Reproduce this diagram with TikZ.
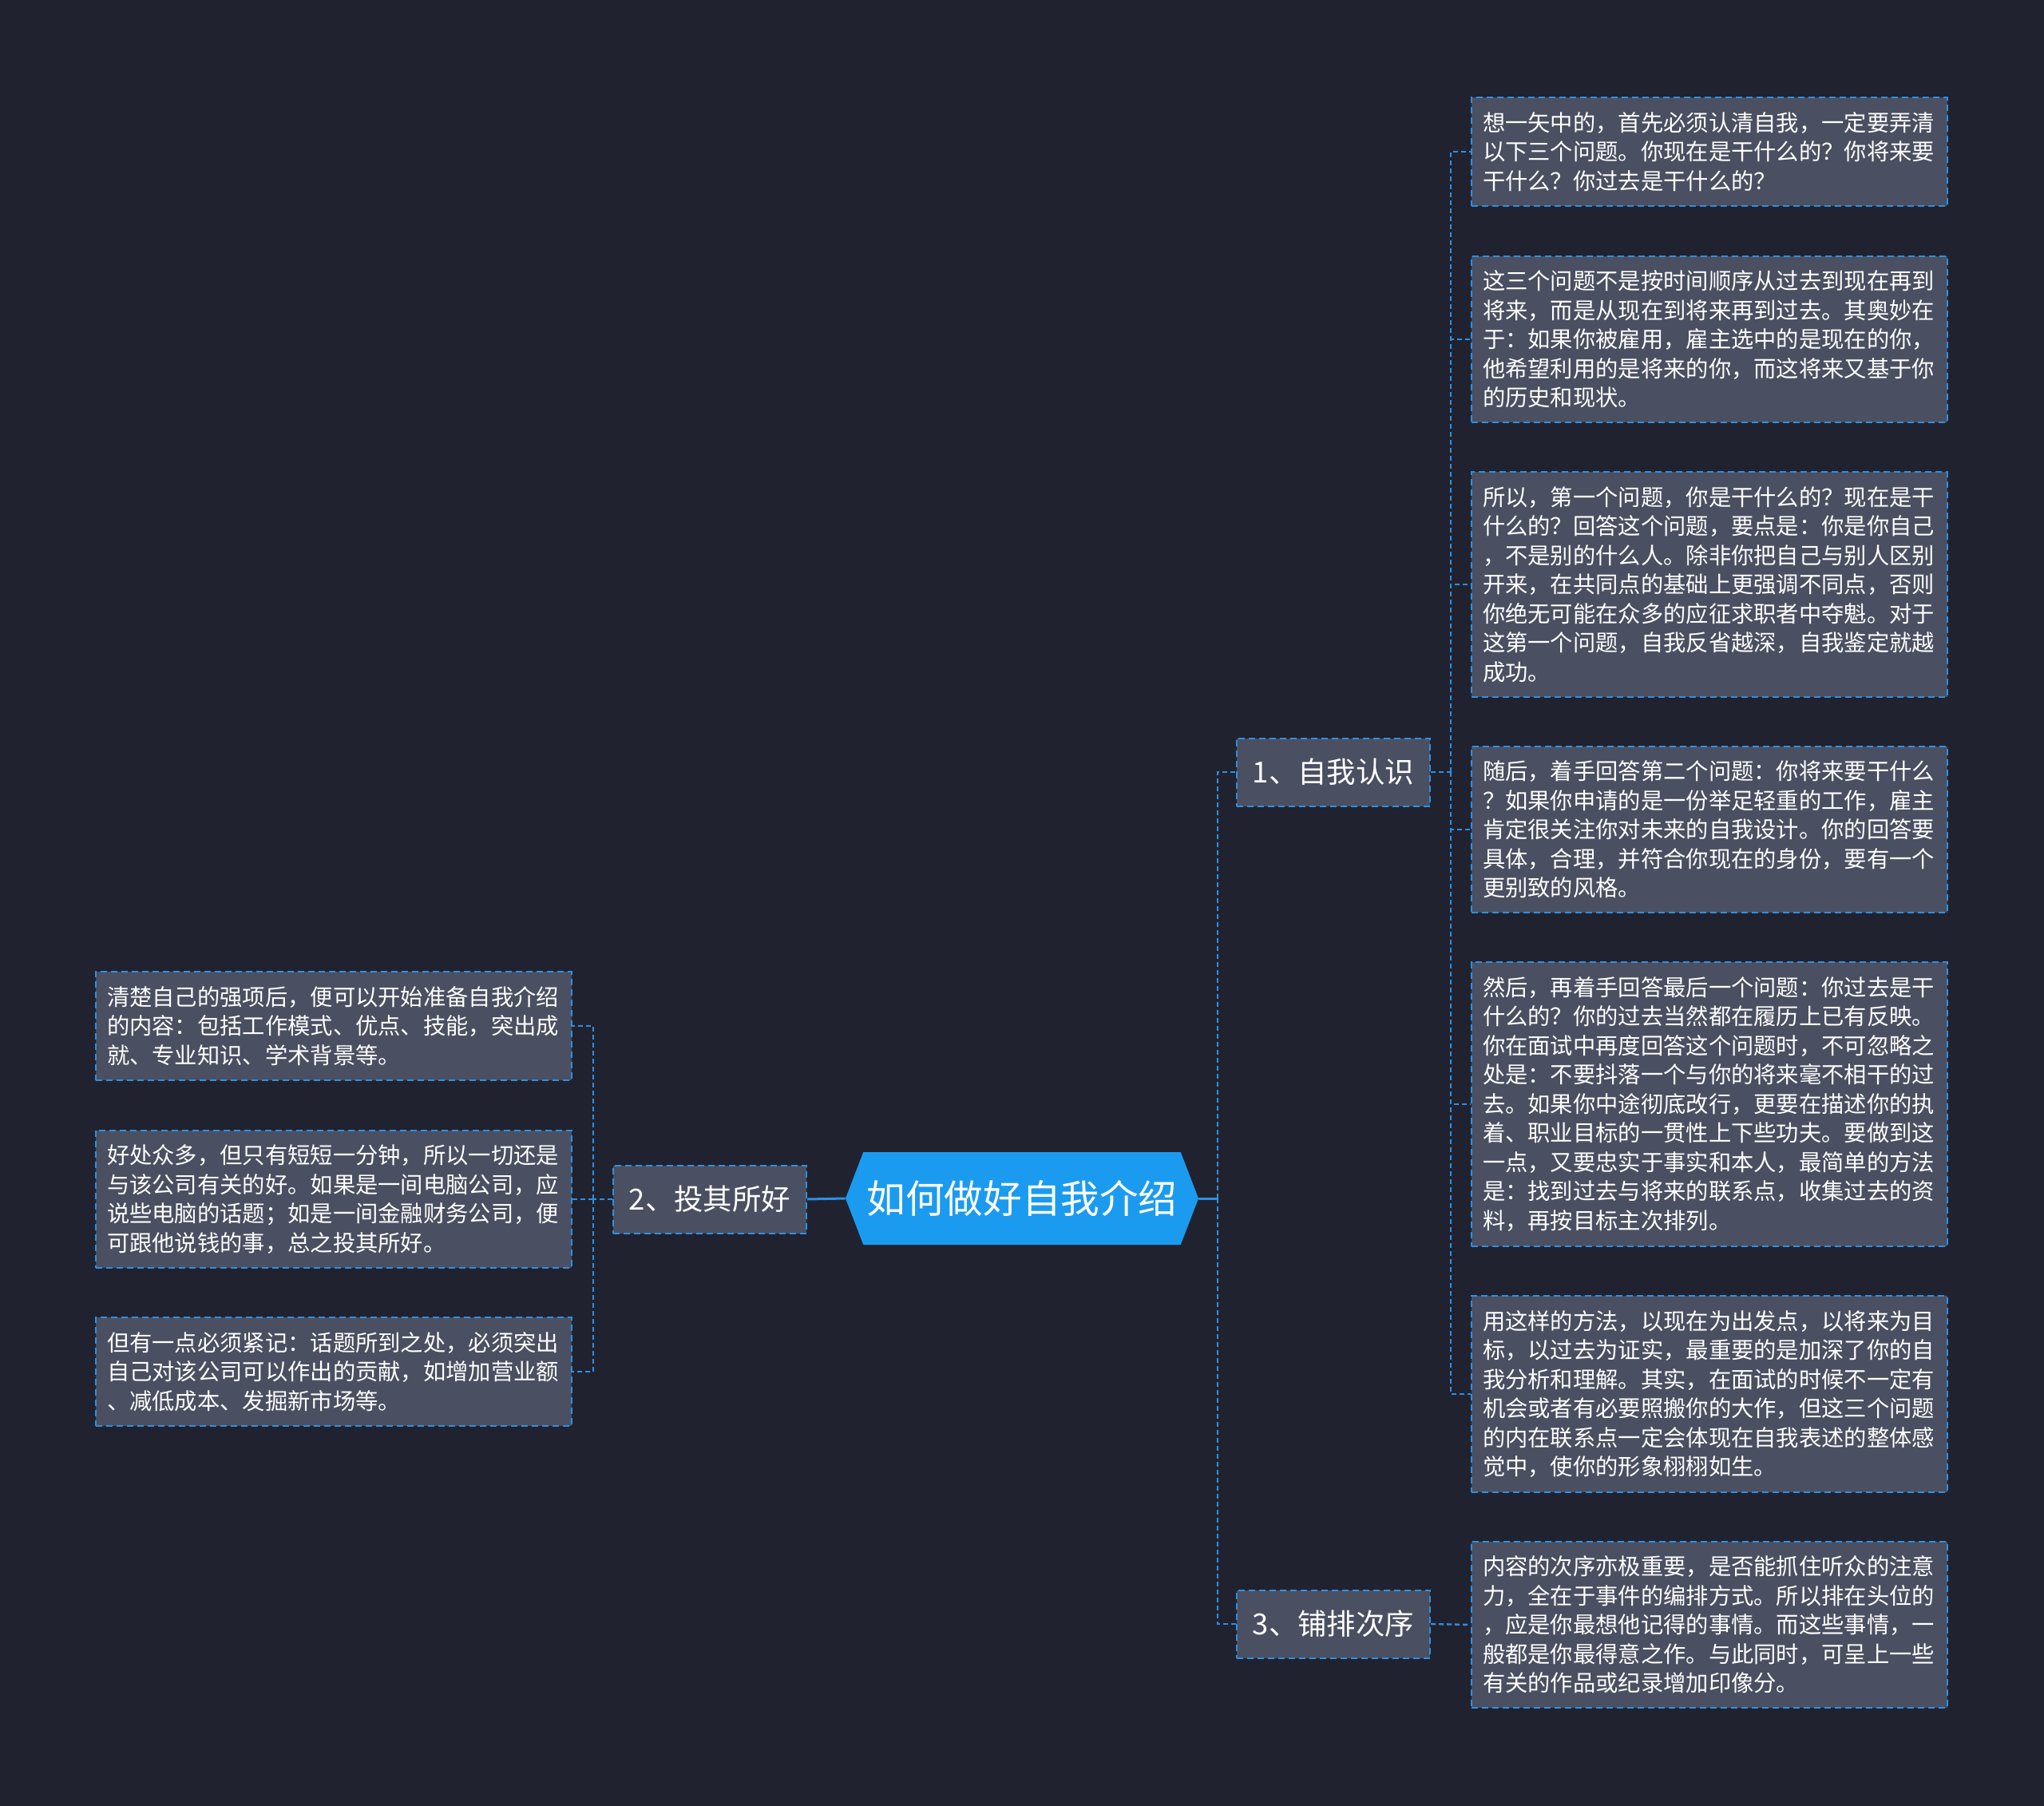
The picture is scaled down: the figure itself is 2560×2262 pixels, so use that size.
\documentclass[tikz,border=0pt]{standalone}
\usepackage{fontspec}
\setmainfont{Noto Sans CJK SC}
\usepackage{tikz}
\usepackage{xcolor}
\definecolor{mapBack}{HTML}{20232F}
\definecolor{mapBox}{HTML}{4A5061}
\definecolor{mapEdge}{HTML}{2E8FE3}
\definecolor{mapRoot}{HTML}{1B9BF0}
\definecolor{mapText}{HTML}{FFFFFF}
\usetikzlibrary{shapes.symbols}

\begin{document}
\begin{tikzpicture}[x=0.5pt, y=-0.5pt,
  leaf/.style={rectangle, draw=mapEdge, fill=mapBox, line width=1pt, dash pattern=on 4pt off 2.5pt, text=mapText, align=left, text width=284pt, inner xsep=7pt, inner ysep=9pt, font=\fontsize{14.15pt}{18.25pt}\selectfont},
  topic/.style={rectangle, draw=mapEdge, fill=mapBox, line width=1pt, dash pattern=on 4pt off 2.5pt, text=mapText, minimum width=121pt, minimum height=42.5pt, inner sep=0pt, font=\fontsize{18.2pt}{20pt}\selectfont},
  trunk/.style={draw=mapEdge, line width=1.5pt},
  twig/.style={draw=mapEdge, line width=1.2pt, dash pattern=on 3pt off 2pt}]
  \fill[mapBack] (0,0) rectangle (2560,2262);
  \useasboundingbox (0,0) rectangle (2560,2262);
  \node[signal, signal to=east and west, signal pointer angle=138, fill=mapRoot, text=mapText, minimum width=221pt, minimum height=58pt, inner sep=0pt, font=\fontsize{24.3pt}{28pt}\selectfont] (root) at (1280,1501) {如何做好自我介绍};
  \node[topic] (know) at (1670,967) {1、自我认识};
  \node[topic] (cater) at (889,1502) {2、投其所好};
  \node[topic] (order) at (1670,2034) {3、铺排次序};
  \node[leaf] (know1) at (2141,190) {想一矢中的，首先必须认清自我，一定要弄清\\以下三个问题。你现在是干什么的？你将来要\\干什么？你过去是干什么的？};
  \node[leaf] (know2) at (2141,425) {这三个问题不是按时间顺序从过去到现在再到\\将来，而是从现在到将来再到过去。其奥妙在\\于：如果你被雇用，雇主选中的是现在的你，\\他希望利用的是将来的你，而这将来又基于你\\的历史和现状。};
  \node[leaf] (know3) at (2141,732) {所以，第一个问题，你是干什么的？现在是干\\什么的？回答这个问题，要点是：你是你自己\\，不是别的什么人。除非你把自己与别人区别\\开来，在共同点的基础上更强调不同点，否则\\你绝无可能在众多的应征求职者中夺魁。对于\\这第一个问题，自我反省越深，自我鉴定就越\\成功。};
  \node[leaf] (know4) at (2141,1039) {随后，着手回答第二个问题：你将来要干什么\\？如果你申请的是一份举足轻重的工作，雇主\\肯定很关注你对未来的自我设计。你的回答要\\具体，合理，并符合你现在的身份，要有一个\\更别致的风格。};
  \node[leaf] (know5) at (2141,1383) {然后，再着手回答最后一个问题：你过去是干\\什么的？你的过去当然都在履历上已有反映。\\你在面试中再度回答这个问题时，不可忽略之\\处是：不要抖落一个与你的将来毫不相干的过\\去。如果你中途彻底改行，更要在描述你的执\\着、职业目标的一贯性上下些功夫。要做到这\\一点，又要忠实于事实和本人，最简单的方法\\是：找到过去与将来的联系点，收集过去的资\\料，再按目标主次排列。};
  \node[leaf] (know6) at (2141,1746) {用这样的方法，以现在为出发点，以将来为目\\标，以过去为证实，最重要的是加深了你的自\\我分析和理解。其实，在面试的时候不一定有\\机会或者有必要照搬你的大作，但这三个问题\\的内在联系点一定会体现在自我表述的整体感\\觉中，使你的形象栩栩如生。};
  \node[leaf] (order1) at (2141,2035) {内容的次序亦极重要，是否能抓住听众的注意\\力，全在于事件的编排方式。所以排在头位的\\，应是你最想他记得的事情。而这些事情，一\\般都是你最得意之作。与此同时，可呈上一些\\有关的作品或纪录增加印像分。};
  \node[leaf] (cater1) at (418,1285) {清楚自己的强项后，便可以开始准备自我介绍\\的内容：包括工作模式、优点、技能，突出成\\就、专业知识、学术背景等。};
  \node[leaf] (cater2) at (418,1502) {好处众多，但只有短短一分钟，所以一切还是\\与该公司有关的好。如果是一间电脑公司，应\\说些电脑的话题；如是一间金融财务公司，便\\可跟他说钱的事，总之投其所好。};
  \node[leaf] (cater3) at (418,1718) {但有一点必须紧记：话题所到之处，必须突出\\自己对该公司可以作出的贡献，如增加营业额\\、减低成本、发掘新市场等。};
  \coordinate (rootJ) at (1525,1501);
  \coordinate (knowJ) at (1817,967);
  \coordinate (caterJ) at (743,1502);
  \draw[trunk] (root.east) -- (rootJ);
  \draw[twig] (rootJ) |- (know.west);
  \draw[twig] (rootJ) |- (order.west);
  \draw[trunk] (root.west) -- (cater.east);
  \draw[twig] (know.east) -- (knowJ);
  \foreach \n in {1,...,6}
    \draw[twig] (knowJ) |- (know\n.west);
  \draw[twig] (order.east) -- (order1.west);
  \draw[twig] (cater.west) -- (caterJ);
  \foreach \n in {1,2,3}
    \draw[twig] (caterJ) |- (cater\n.east);
\end{tikzpicture}
\end{document}
